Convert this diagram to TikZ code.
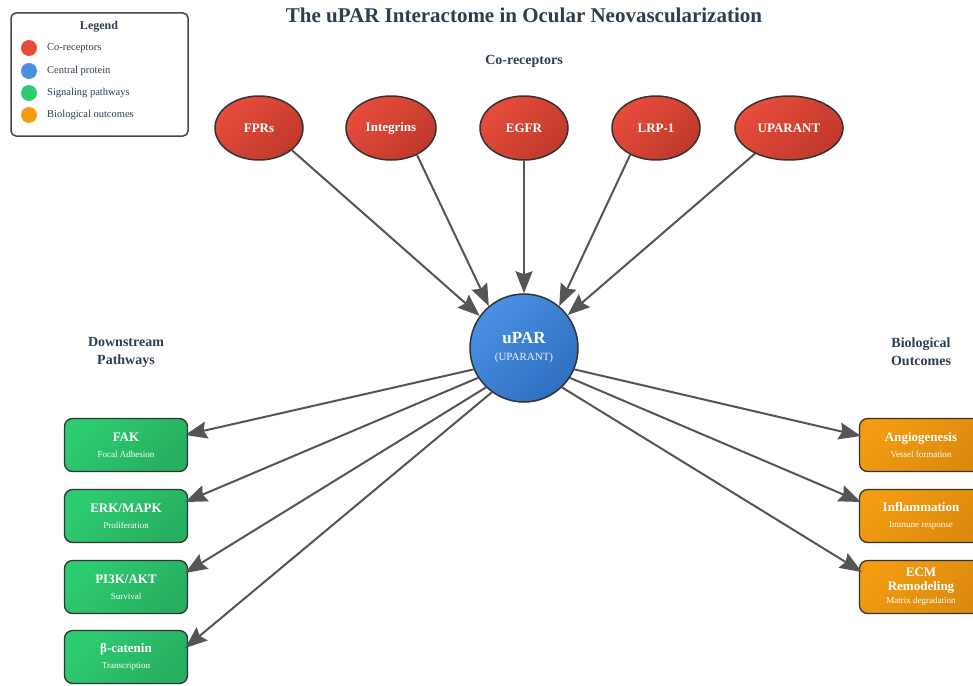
\documentclass[tikz,border=0pt]{standalone}
\usepackage{fontspec}
\setmainfont{Liberation Serif}
\usetikzlibrary{arrows.meta,shapes.geometric}
\definecolor{ttl}{HTML}{2C3E50}
\definecolor{arr}{HTML}{555555}
\definecolor{edge}{HTML}{333333}
\definecolor{redL}{HTML}{E74C3C}
\definecolor{redD}{HTML}{C0392B}
\definecolor{bluL}{HTML}{4A90E2}
\definecolor{bluD}{HTML}{2F6FC0}
\definecolor{grnL}{HTML}{2ECC71}
\definecolor{grnD}{HTML}{27AE60}
\definecolor{orgL}{HTML}{F39C12}
\definecolor{orgD}{HTML}{DB8A0E}
\definecolor{subt}{HTML}{EAF2FB}
\tikzset{
  coreceptor/.style={ellipse, draw=edge, line width=1.5pt, top color=redL, bottom color=redD, shading angle=45,
    minimum width=88pt, minimum height=64pt, inner sep=0pt, text=white,
    font=\fontsize{13}{15}\selectfont\bfseries},
  pathbox/.style={rectangle, rounded corners=8pt, draw=edge, line width=1.3pt, top color=grnL, bottom color=grnD, shading angle=45,
    minimum width=123pt, minimum height=53pt, inner sep=0pt, text=white, align=center},
  outbox/.style={rectangle, rounded corners=8pt, draw=edge, line width=1.3pt, top color=orgL, bottom color=orgD, shading angle=45,
    minimum width=123pt, minimum height=53pt, inner sep=0pt, text=white, align=center},
  conn/.style={draw=arr, line width=2pt, -{Stealth[length=22pt,width=17pt,inset=3pt]}},
  header/.style={text=ttl, font=\fontsize{14}{18}\selectfont\bfseries, align=center},
  legdot/.style={circle, minimum size=16pt, inner sep=0pt},
  legtext/.style={anchor=west, text=ttl, font=\fontsize{10.5}{12}\selectfont, inner sep=0pt},
}
\newcommand{\bt}[1]{{\fontsize{13}{15}\selectfont\bfseries #1}}
\newcommand{\st}[1]{{\fontsize{9}{11}\selectfont #1}}
\begin{document}
\begin{tikzpicture}[x=1pt,y=-1pt]
\useasboundingbox (0,0) rectangle (973,685);
\fill[white] (0,0) rectangle (973,685);

% title
\node[text=ttl, font=\fontsize{21}{25}\selectfont\bfseries] (title) at (524,15) {The uPAR Interactome in Ocular Neovascularization};

% legend
\node[draw=edge!90, line width=1.5pt, rounded corners=5pt, fill=white, minimum width=177pt, minimum height=123pt] (legend) at (99.5,74.5) {};
\node[text=ttl, font=\fontsize{12}{14}\selectfont\bfseries] (legtitle) at (99,27) {Legend};
\node[legdot, fill=redL] (l1) at (29,48) {};
\node[legdot, fill=bluL] (l2) at (29,71) {};
\node[legdot, fill=grnL] (l3) at (29,93) {};
\node[legdot, fill=orgL] (l4) at (29,115) {};
\node[legtext] (t1) at (47,48) {Co-receptors};
\node[legtext] (t2) at (47,71) {Central protein};
\node[legtext] (t3) at (47,93) {Signaling pathways};
\node[legtext] (t4) at (47,115) {Biological outcomes};

% headers
\node[header] (hco) at (524,61) {Co-receptors};
\node[header] (hdown) at (126,352) {Downstream\\Pathways};
\node[header] (hbio) at (921,352) {Biological\\Outcomes};

% co-receptors
\node[coreceptor] (fpr) at (259,128) {FPRs};
\node[coreceptor, minimum width=90pt] (itg) at (391,128) {Integrins};
\node[coreceptor] (egfr) at (524,128) {EGFR};
\node[coreceptor] (lrp) at (656,128) {LRP-1};
\node[coreceptor, minimum width=108pt] (upa) at (789,128) {UPARANT};

% central protein
\node[circle, draw=edge, line width=1.5pt, top color=bluL, bottom color=bluD, shading angle=45,
  minimum size=108pt, inner sep=0pt, align=center, text=white] (upar) at (524,348)
  {{\fontsize{17}{20}\selectfont\bfseries uPAR}\\[5pt]{\fontsize{11}{13}\selectfont\color{subt}(UPARANT)}};

% pathways
\node[pathbox] (fak) at (126,445) {\bt{FAK}\\[4pt]\st{Focal Adhesion}};
\node[pathbox] (erk) at (126,516) {\bt{ERK/MAPK}\\[4pt]\st{Proliferation}};
\node[pathbox] (pi3k) at (126,587) {\bt{PI3K/AKT}\\[4pt]\st{Survival}};
\node[pathbox] (bcat) at (126,657) {\bt{β-catenin}\\[4pt]\st{Transcription}};

% outcomes
\node[outbox] (ang) at (921,445) {\bt{Angiogenesis}\\[4pt]\st{Vessel formation}};
\node[outbox] (inf) at (921,516) {\bt{Inflammation}\\[4pt]\st{Immune response}};
\node[outbox] (ecm) at (921,587) {\bt{ECM}\\[2pt]\bt{Remodeling}\\[1pt]\st{Matrix degradation}};

% connectors from co-receptors
\draw[conn] (fpr.-34.5) -- (upar.144.5);
\draw[conn] (itg.-46) -- (upar.130);
\draw[conn] (egfr.south) -- (upar.north);
\draw[conn] (lrp.-134) -- (upar.50);
\draw[conn] (upa.217) -- (upar.37);

% connectors to pathways
\draw[conn] (upar.203) -- ([shift={(-3,-10)}]fak.east);
\draw[conn] (upar.213) -- ([shift={(-3,-14)}]erk.east);
\draw[conn] (upar.226) -- ([shift={(-3,-14)}]pi3k.east);
\draw[conn] (upar.234) -- ([shift={(-3,-9)}]bcat.east);

% connectors to outcomes
\draw[conn] (upar.337) -- ([shift={(2,-9)}]ang.west);
\draw[conn] (upar.327) -- ([shift={(2,-14)}]inf.west);
\draw[conn] (upar.314) -- ([shift={(3,-15)}]ecm.west);
\end{tikzpicture}
\end{document}
